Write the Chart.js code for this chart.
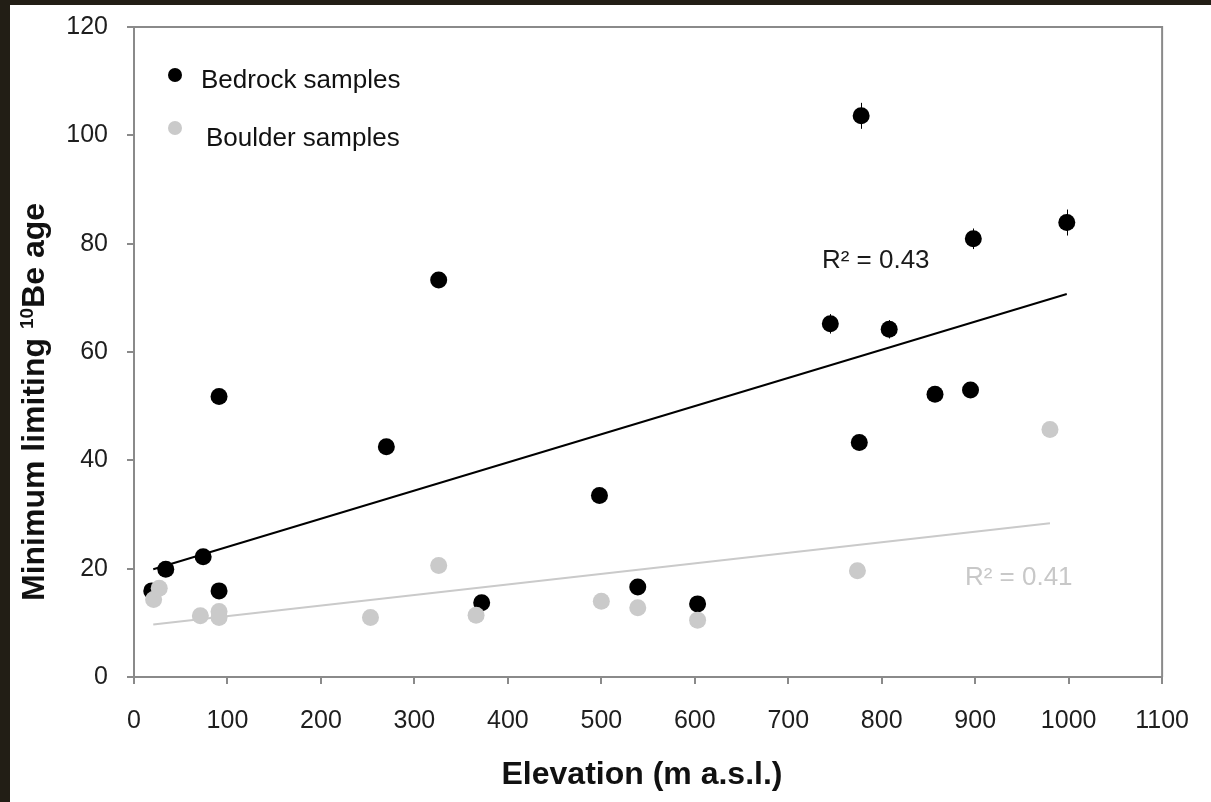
<!DOCTYPE html>
<html>
<head>
<meta charset="utf-8">
<script src="https://cdn.jsdelivr.net/npm/chart.js@4.4.1/dist/chart.umd.min.js"></script>
<style>
  html, body { margin: 0; padding: 0; width: 1211px; height: 802px; overflow: hidden; background: #221e15; }
  #wrap { position: absolute; left: 10px; top: 5px; width: 1201px; height: 797px; background: #fff; }
</style>
</head>
<body>
<div id="wrap"><canvas id="ageChart"></canvas></div>
<script>
// Bedrock samples (black)
const bedrockElevation = [19, 34, 74, 91, 91, 270, 326, 372, 498, 539, 603, 745, 776, 778, 808, 857, 895, 898, 998];
const bedrockAge = [15.9, 19.9, 22.2, 15.9, 51.8, 42.5, 73.3, 13.7, 33.5, 16.6, 13.5, 65.2, 43.3, 103.6, 64.2, 52.2, 53.0, 80.9, 83.9];
const bedrockError = [0.5, 0.5, 0.6, 0.5, 1.2, 1.0, 1.3, 0.4, 0.9, 0.5, 0.4, 1.8, 1.4, 2.4, 1.7, 1.3, 1.4, 1.9, 2.4];

// Boulder samples (grey)
const boulderElevation = [21, 27, 71, 91, 91, 253, 326, 366, 500, 539, 603, 774, 980];
const boulderAge = [14.3, 16.4, 11.3, 12.1, 11.0, 11.0, 20.6, 11.4, 14.0, 12.8, 10.5, 19.6, 45.7];

// Linear trend lines (end points)
const bedrockFitElevation = [20.6, 998];
const bedrockFitAge = [19.9, 70.7];
const boulderFitElevation = [20.6, 980];
const boulderFitAge = [9.7, 28.4];
const fitLabels = ['R\u00b2 = 0.43', 'R\u00b2 = 0.41'];

const legendLabels = ['Bedrock samples', 'Boulder samples'];
const xTitle = 'Elevation (m a.s.l.)';
const yTitleParts = ['Minimum limiting ', '10', 'Be age'];

const FONT = '"Liberation Sans", Arial, sans-serif';
const AXIS_GREY = '#8a8a8a';
const BEDROCK_COLOR = '#000000';
const BOULDER_COLOR = '#cacaca';

const toPoints = (xs, ys) => xs.map((x, i) => ({ x, y: ys[i] }));

const figureExtrasPlugin = {
  id: 'figureExtras',
  beforeDatasetsDraw: (chart) => {
    const { ctx, chartArea: area, scales: { x, y } } = chart;
    ctx.save();
    // close the frame on top and right
    ctx.strokeStyle = AXIS_GREY;
    ctx.lineWidth = 2;
    ctx.beginPath();
    ctx.moveTo(area.left - 1, area.top);
    ctx.lineTo(area.right, area.top);
    ctx.lineTo(area.right, area.bottom);
    ctx.stroke();
    // error bars on bedrock ages
    ctx.strokeStyle = BEDROCK_COLOR;
    ctx.lineWidth = 1;
    bedrockElevation.forEach((elev, i) => {
      const px = Math.round(x.getPixelForValue(elev)) + 0.5;
      ctx.beginPath();
      ctx.moveTo(px, y.getPixelForValue(bedrockAge[i] - bedrockError[i]));
      ctx.lineTo(px, y.getPixelForValue(bedrockAge[i] + bedrockError[i]));
      ctx.stroke();
    });
    ctx.restore();
  },
  afterDraw: (chart) => {
    const { ctx, chartArea: area, scales: { x, y } } = chart;
    ctx.save();
    ctx.textBaseline = 'middle';
    ctx.textAlign = 'left';

    // legend inside the plot
    ctx.font = `26px ${FONT}`;
    ctx.fillStyle = BEDROCK_COLOR;
    ctx.beginPath();
    ctx.arc(area.left + 41, area.top + 48, 7, 0, Math.PI * 2);
    ctx.fill();
    ctx.fillStyle = '#111';
    ctx.fillText(legendLabels[0], area.left + 67, area.top + 54);
    ctx.fillStyle = BOULDER_COLOR;
    ctx.beginPath();
    ctx.arc(area.left + 41, area.top + 101, 7, 0, Math.PI * 2);
    ctx.fill();
    ctx.fillStyle = '#111';
    ctx.fillText(legendLabels[1], area.left + 72, area.top + 112);

    // R² labels
    ctx.fillStyle = '#1a1a1a';
    ctx.fillText(fitLabels[0], x.getPixelForValue(736), y.getPixelForValue(76.8));
    ctx.fillStyle = '#c8c8c8';
    ctx.fillText(fitLabels[1], x.getPixelForValue(889), y.getPixelForValue(18.3));

    // x axis title
    ctx.fillStyle = '#111';
    ctx.font = `bold 32px ${FONT}`;
    ctx.textAlign = 'center';
    ctx.fillText(xTitle, area.left + 508, area.bottom + 98);

    // y axis title with superscript 10
    ctx.translate(33.5, area.bottom - 76);
    ctx.rotate(-Math.PI / 2);
    ctx.textAlign = 'left';
    ctx.textBaseline = 'alphabetic';
    const bigFont = `bold 32px ${FONT}`;
    const smallFont = `bold 19px ${FONT}`;
    ctx.font = bigFont;
    ctx.fillText(yTitleParts[0], 0, 0);
    let offset = ctx.measureText(yTitleParts[0]).width;
    ctx.font = smallFont;
    ctx.fillText(yTitleParts[1], offset, -11);
    offset += ctx.measureText(yTitleParts[1]).width;
    ctx.font = bigFont;
    ctx.fillText(yTitleParts[2], offset, 0);
    ctx.restore();
  },
};

const tickFont = { family: FONT, size: 25 };

new Chart(document.getElementById('ageChart').getContext('2d'), {
  type: 'scatter',
  data: {
    datasets: [
      {
        label: 'Bedrock trend',
        data: toPoints(bedrockFitElevation, bedrockFitAge),
        showLine: true,
        borderColor: BEDROCK_COLOR,
        borderWidth: 2,
        pointRadius: 0,
        order: 3,
      },
      {
        label: 'Boulder trend',
        data: toPoints(boulderFitElevation, boulderFitAge),
        showLine: true,
        borderColor: BOULDER_COLOR,
        borderWidth: 2,
        pointRadius: 0,
        order: 2,
      },
      {
        label: legendLabels[0],
        data: toPoints(bedrockElevation, bedrockAge),
        backgroundColor: BEDROCK_COLOR,
        borderWidth: 0,
        pointRadius: 8.5,
        order: 1,
      },
      {
        label: legendLabels[1],
        data: toPoints(boulderElevation, boulderAge),
        backgroundColor: BOULDER_COLOR,
        borderWidth: 0,
        pointRadius: 8.5,
        order: 0,
      },
    ],
  },
  options: {
    responsive: true,
    maintainAspectRatio: false,
    animation: false,
    events: [],
    layout: { padding: { top: 22, right: 45, left: 0, bottom: 0 }, autoPadding: false },
    scales: {
      x: {
        type: 'linear',
        min: 0,
        max: 1100,
        afterFit: (scale) => { scale.height = 125; },
        border: { display: true, color: AXIS_GREY, width: 2 },
        grid: { drawOnChartArea: false, drawTicks: true, tickLength: 7, color: AXIS_GREY, lineWidth: 2 },
        ticks: {
          stepSize: 100,
          padding: 22,
          maxRotation: 0,
          autoSkip: false,
          color: '#1e1e1e',
          font: tickFont,
          callback: (value) => String(value),
        },
      },
      y: {
        type: 'linear',
        min: 0,
        max: 120,
        afterFit: (scale) => {
          scale.width = 124;
          scale.paddingTop = 0;
          scale.paddingBottom = 0;
        },
        border: { display: true, color: AXIS_GREY, width: 2 },
        grid: { drawOnChartArea: false, drawTicks: true, tickLength: 7, color: AXIS_GREY, lineWidth: 2 },
        ticks: { stepSize: 20, padding: 19, color: '#1e1e1e', font: tickFont },
      },
    },
    plugins: {
      legend: { display: false },
      tooltip: { enabled: false },
    },
  },
  plugins: [figureExtrasPlugin],
});
</script>
</body>
</html>
